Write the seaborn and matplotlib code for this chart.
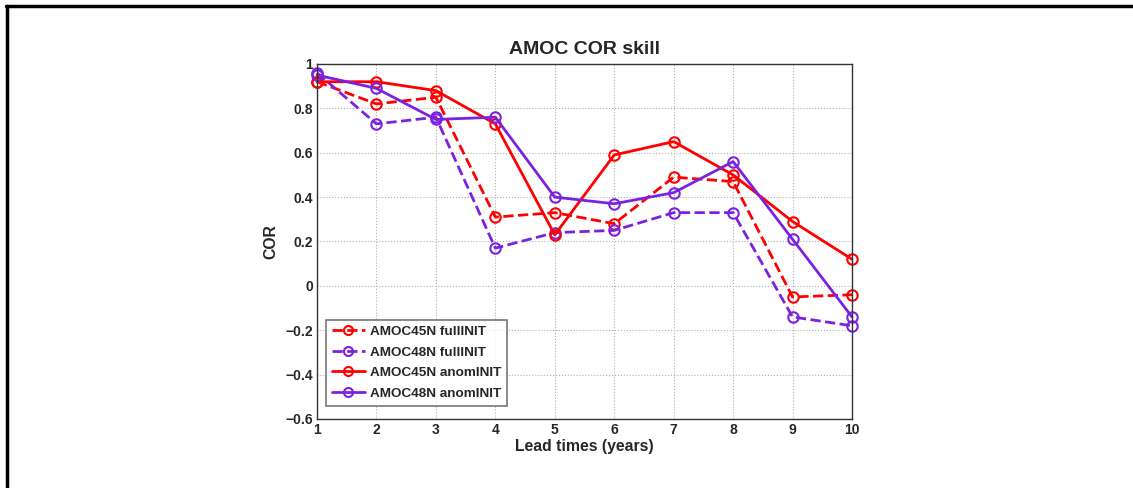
import matplotlib
matplotlib.use("Agg")
import matplotlib.pyplot as plt
import seaborn as sns
import pandas as pd
from matplotlib.lines import Line2D

# donnees
lead = [1, 2, 3, 4, 5, 6, 7, 8, 9, 10]
amoc45_full = [0.92, 0.82, 0.85, 0.31, 0.33, 0.28, 0.49, 0.47, -0.05, -0.04]
amoc48_full = [0.96, 0.73, 0.76, 0.17, 0.24, 0.25, 0.33, 0.33, -0.14, -0.18]
amoc45_anom = [0.92, 0.92, 0.88, 0.73, 0.23, 0.59, 0.65, 0.50, 0.29, 0.12]
amoc48_anom = [0.95, 0.89, 0.75, 0.76, 0.40, 0.37, 0.42, 0.56, 0.21, -0.14]
noms = ["AMOC45N fullINIT", "AMOC48N fullINIT", "AMOC45N anomINIT", "AMOC48N anomINIT"]

rouge = "#FF0000"
violet = "#7B22E0"

sns.set_style("white")
plt.rcParams["font.family"] = ["Liberation Sans", "DejaVu Sans"]
plt.rcParams["font.weight"] = "bold"

fig = plt.figure(figsize=(11.33, 4.88), dpi=100)
ax = fig.add_axes([0.2798, 0.1414, 0.4722, 0.7275])

series = [amoc45_full, amoc48_full, amoc45_anom, amoc48_anom]
couleurs = [rouge, violet, rouge, violet]
styles = ["--", "--", "-", "-"]

for nom, y, c, ls in zip(noms, series, couleurs, styles):
    df = pd.DataFrame({"lead": lead, "cor": y})
    sns.lineplot(data=df, x="lead", y="cor", ax=ax, color=c, linestyle=ls,
                 linewidth=2, marker="o", markersize=7.5, markerfacecolor="none",
                 markeredgecolor=c, markeredgewidth=1.5, label=nom)

# les cercles au bord ne sont pas coupes
for ligne in ax.lines:
    ligne.set_clip_on(False)

ax.set_xlim(1, 10)
ax.set_ylim(-0.6, 1)
ax.set_xticks(lead)
ax.set_yticks([-0.6, -0.4, -0.2, 0, 0.2, 0.4, 0.6, 0.8, 1])
ax.set_yticklabels(["\u22120.6", "\u22120.4", "\u22120.2", "0", "0.2", "0.4", "0.6", "0.8", "1"])
ax.grid(True, linestyle=":", color="#b0b0b0", linewidth=0.8)
ax.tick_params(labelsize=10, direction="in", length=3, width=0.8, pad=3)
for s in ax.spines.values():
    s.set_color("#333333")
    s.set_linewidth(1)
for lab in ax.get_xticklabels() + ax.get_yticklabels():
    lab.set_fontweight("bold")

ax.set_title("AMOC COR skill", fontsize=14, fontweight="bold", pad=7)
ax.set_xlabel("Lead times (years)", fontsize=11.3, fontweight="bold", labelpad=1)
ax.set_ylabel("COR", fontsize=11.3, fontweight="bold", labelpad=5)

handles = [Line2D([0], [0], color=c, linestyle=ls, linewidth=2, marker="o",
                  markersize=6.5, markerfacecolor="none", markeredgewidth=1.5)
           for c, ls in zip(couleurs, styles)]
leg = ax.legend(handles, noms, loc="lower left", bbox_to_anchor=(0.012, 0.03),
                fontsize=9.7, frameon=True, fancybox=False, handlelength=2.4,
                handletextpad=0.4, borderpad=0.45, labelspacing=0.6,
                borderaxespad=0.2)
leg.get_frame().set_edgecolor("#555555")
leg.get_frame().set_linewidth(1.2)
for t in leg.get_texts():
    t.set_fontweight("bold")

# cadre de la capture (haut et gauche)
fig.add_artist(Line2D([0.005, 1], [0.987, 0.987], color="black", linewidth=2.5, transform=fig.transFigure))
fig.add_artist(Line2D([0.006, 0.006], [0, 0.987], color="black", linewidth=2.5, transform=fig.transFigure))

plt.savefig("out.png", dpi=100)
